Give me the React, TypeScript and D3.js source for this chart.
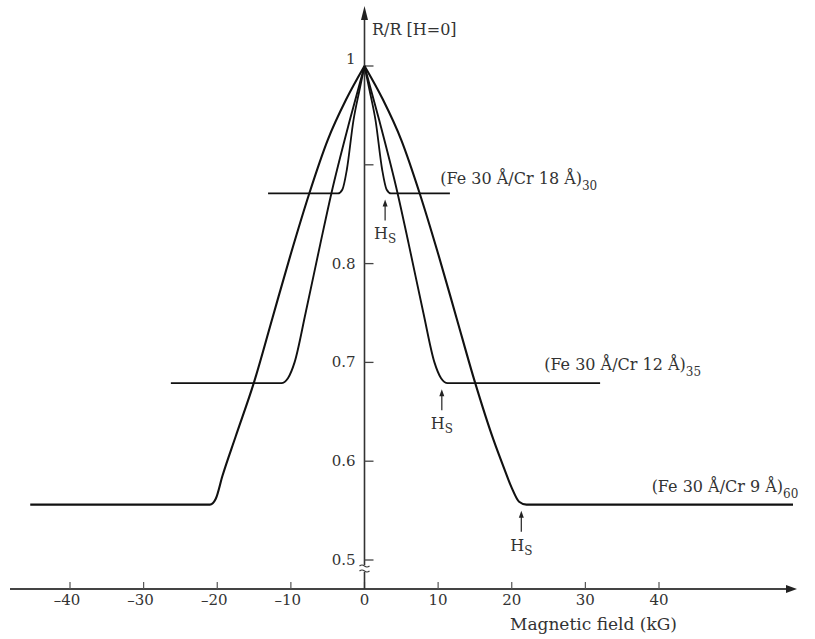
import React from "react";
import * as d3 from "d3";

// Fe 30 Å / Cr 9 Å (60 bilayers)
const field9 = [-45.4, -21, -20.2, -19.3, -17.5, -15, -12.5, -10, -7.5, -5, -2.5, 0, 2.5, 5, 7.5, 10, 12.5, 15, 17.5, 19, 20, 21, 22, 58.2];
const ratio9 = [0.556, 0.556, 0.562, 0.585, 0.625, 0.68, 0.745, 0.81, 0.871, 0.925, 0.966, 1, 0.966, 0.925, 0.871, 0.81, 0.745, 0.68, 0.622, 0.592, 0.573, 0.559, 0.556, 0.556];

// Fe 30 Å / Cr 12 Å (35 bilayers)
const field12 = [-26.3, -11.3, -10.4, -9.5, -8, -6, -4.5, -2, 0, 2, 4.5, 6, 8, 9.5, 10.4, 11.3, 32];
const ratio12 = [0.679, 0.679, 0.684, 0.70, 0.75, 0.82, 0.871, 0.945, 1, 0.945, 0.871, 0.82, 0.75, 0.70, 0.684, 0.679, 0.679];

// Fe 30 Å / Cr 18 Å (30 bilayers)
const field18 = [-13.1, -3.6, -3, -2.4, -1.5, -0.7, 0, 0.7, 1.5, 2.4, 3, 3.6, 11.6];
const ratio18 = [0.871, 0.871, 0.875, 0.895, 0.945, 0.975, 1, 0.975, 0.945, 0.895, 0.875, 0.871, 0.871];

const xTicks = [-40, -30, -20, -10, 0, 10, 20, 30, 40];
const yTicks = [0.5, 0.6, 0.7, 0.8, 0.9, 1.0];
const yTickLabels = ["0.5", "0.6", "0.7", "0.8", "", "1"];

const hsField = [2.8, 10.5, 21.3];
const hsRatio = [0.871, 0.679, 0.556];

const seriesNames = ["(Fe 30 Å/Cr 18 Å)", "(Fe 30 Å/Cr 12 Å)", "(Fe 30 Å/Cr 9 Å)"];
const seriesSubs = ["30", "35", "60"];
const labelField = [10.3, 24.4, 39.0];
const labelRatio = [0.881, 0.692, 0.569];

export default function App() {
  const W = 815, H = 639;
  const x = d3.scaleLinear().domain([-40, 40]).range([70, 659]);
  const y = d3.scaleLinear().domain([0.5, 1]).range([560, 66]);
  const x0 = x(0);
  const axisY = 589;

  const line = d3.line<[number, number]>().x(d => x(d[0])).y(d => y(d[1])).curve(d3.curveMonotoneX);
  const halves = (f: number[], r: number[]) => {
    const p = f.map((v, i) => [v, r[i]] as [number, number]);
    const k = d3.maxIndex(r);
    return (line(p.slice(0, k + 1)) || "") + (line(p.slice(k)) || "");
  };

  const serif = "'DejaVu Serif', 'Liberation Serif', serif";
  const textCol = "#333";

  return (
    <svg width={W} height={H} style={{ position: "absolute", left: 0, top: 0, background: "#fff" }}>
      {/* x axis */}
      <line x1={10} y1={axisY} x2={786} y2={axisY} stroke="#444" strokeWidth={2} />
      <path d={`M786,${axisY - 4} L797,${axisY} L786,${axisY + 4} Z`} fill="#222" />
      {xTicks.map(t => (
        <g key={t}>
          <line x1={x(t)} x2={x(t)} y1={axisY - 7} y2={axisY} stroke="#555" strokeWidth={1.2} />
          <text x={x(t) - (t < 0 ? 3 : 0)} y={605} textAnchor="middle" fontFamily={serif} fontSize={15} fill={textCol}>
            {t < 0 ? "\u2013" + Math.abs(t) : String(t)}
          </text>
        </g>
      ))}
      <text x={510} y={630} fontFamily={serif} fontSize={17} fill={textCol}>Magnetic field (kG)</text>

      {/* y axis */}
      <line x1={x0} y1={18} x2={x0} y2={axisY} stroke="#333" strokeWidth={1.6} />
      <path d={`M${x0 - 3.5},20 L${x0},6 L${x0 + 3.5},20 Z`} fill="#222" />
      {yTicks.map((t, i) => (
        <g key={t}>
          <line x1={x0} x2={x0 + 9} y1={y(t)} y2={y(t)} stroke="#444" strokeWidth={1.3} />
          {yTickLabels[i] && (
            <text x={x0 - 9} y={y(t) + (t === 1 ? -2 : 5)} textAnchor="end" fontFamily={serif} fontSize={15} fill={textCol}>
              {yTickLabels[i]}
            </text>
          )}
        </g>
      ))}
      <text x={372} y={35} fontFamily={serif} fontSize={16} fill={textCol}>R/R [H=0]</text>
      {/* axis break */}
      <rect x={x0 - 6} y={565} width={12} height={7} fill="#fff" />
      <path d={`M${x0 - 5},566 q2.5,-2 5,0 t5,0`} fill="none" stroke="#333" strokeWidth={1.2} />
      <path d={`M${x0 - 5},571 q2.5,-2 5,0 t5,0`} fill="none" stroke="#333" strokeWidth={1.2} />

      {/* curves */}
      <path d={halves(field18, ratio18)} fill="none" stroke="#111" strokeWidth={1.8} />
      <path d={halves(field12, ratio12)} fill="none" stroke="#111" strokeWidth={1.9} />
      <path d={halves(field9, ratio9)} fill="none" stroke="#111" strokeWidth={2.1} />

      {/* Hs arrows */}
      {hsField.map((h, i) => {
        const ax = x(h), py = y(hsRatio[i]);
        return (
          <g key={i}>
            <line x1={ax} x2={ax} y1={py + 11} y2={py + 27} stroke="#333" strokeWidth={1.3} />
            <path d={`M${ax - 2.5},${py + 13} L${ax},${py + 6} L${ax + 2.5},${py + 13} Z`} fill="#222" />
            <text x={ax - 11} y={py + 46} fontFamily={serif} fontSize={16} fill={textCol}>
              H<tspan fontSize={12} dy={4}>S</tspan>
            </text>
          </g>
        );
      })}

      {/* series labels */}
      {seriesNames.map((n, i) => (
        <text key={n} x={x(labelField[i])} y={y(labelRatio[i])} fontFamily={serif} fontSize={16} fill={textCol}>
          {n}
          <tspan fontSize={12} dy={6}>{seriesSubs[i]}</tspan>
        </text>
      ))}
    </svg>
  );
}
